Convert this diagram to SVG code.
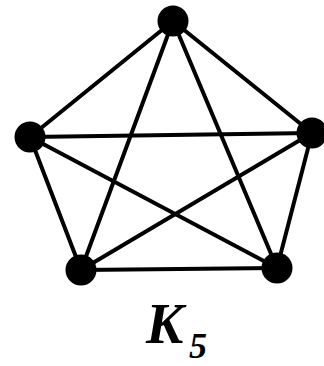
<svg xmlns="http://www.w3.org/2000/svg" width="324" height="366" viewBox="0 0 324 366">
<style>
.e{stroke:#000;stroke-width:4;stroke-linecap:round}
.n{fill:#000}
.t{font-family:"Liberation Serif","Times New Roman",serif;font-weight:bold;font-style:italic;fill:#000}
</style>
<rect width="324" height="366" fill="#fff"/>
<g id="edges">
<line class="e" x1="173" y1="21" x2="30" y2="137"/>
<line class="e" x1="173" y1="21" x2="312" y2="133"/>
<line class="e" x1="173" y1="21" x2="81" y2="270"/>
<line class="e" x1="173" y1="21" x2="277" y2="268"/>
<line class="e" x1="30" y1="137" x2="312" y2="133"/>
<line class="e" x1="30" y1="137" x2="81" y2="270"/>
<line class="e" x1="30" y1="137" x2="277" y2="268"/>
<line class="e" x1="312" y1="133" x2="81" y2="270"/>
<line class="e" x1="312" y1="133" x2="277" y2="268"/>
<line class="e" x1="81" y1="270" x2="277" y2="268"/>
</g>
<g id="v1"><circle class="n" cx="173" cy="21" r="15.5"/></g>
<g id="v2"><circle class="n" cx="30" cy="137" r="15.5"/></g>
<g id="v3"><circle class="n" cx="312" cy="133" r="15.5"/></g>
<g id="v4"><circle class="n" cx="81" cy="270" r="15.5"/></g>
<g id="v5"><circle class="n" cx="277" cy="268" r="15.5"/></g>
<g id="label"><text class="t" x="146" y="343" font-size="56">K<tspan x="189" y="358" font-size="36">5</tspan></text></g>
</svg>
